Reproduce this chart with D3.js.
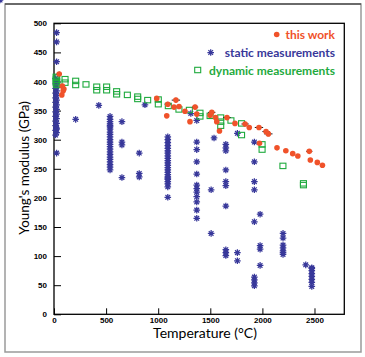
<!DOCTYPE html>
<html><head><meta charset="utf-8">
<script src="https://cdn.jsdelivr.net/npm/d3@7"></script>
<style>body{margin:0;background:#fff}svg{display:block}</style>
</head><body>
<script>
// ---- data ----
const thisWorkT   = [50,80,95,75,88,986,1082,1092,1152,1170,1200,1257,1305,1354,1370,1498,1514,1550,1562,1588,1660,1737,1834,1874,1967,1972,2035,2057,2140,2225,2291,2340,2450,2460,2527,2576];
const thisWorkE   = [413,392,387,377,384,371,341,361,356,368,357,349,331,356,344,342,347,338,331,315,338,328,327,321,321,294,314,310,286,281,276,272,280,265,261,256];
const thisWorkErr = [25,0,20,0,0,0,0,30,0,40,0,0,0,30,0,0,35,0,0,0,35,0,35,0,40,0,35,40,0,0,0,0,30,0,0,0];

const staticT = [
 25,25,25,
 15,25,15,25,15,25,15,25,15,25,15,25,15,25,15,25,15,25,15,25,15,25,15,25,15,25,
 25,208,430,
 538,538,538,538,538,538,538,538,538,538,538,538,538,538,538,538,538,538,538,538,538,538,538,
 652,652,652,652, 818,818,818, 873,
 1092,1092,1092,1092,1092,1092,1092,1092,1092,1092,1092,1092,1092,1092,1092,1092,1092,1092,1092,1092,1092,1092,1092,
 1313,
 1370,1370,1370,1370,1370,1370,1370,1370,1370,1370,1370,1370,
 1508,1508, 1536,
 1649,1649,1649,1649,1649,1649,1649,1649,1649,1649,
 1760,1760,1760,
 1923,1923,1923,1923,1923,1923,1923,1923,1923,
 1978,1978,1978,1978,
 2198,2198,2198,2198,2198,2198,2198,
 2416,
 2474,2474,2474,2474,2474,2474,2474,2474,
 2644];
const staticE = [
 484,468,434,
 405,400,396,392,388,384,380,376,372,368,364,360,356,352,348,344,340,336,332,328,324,320,316,312,308,
 277,318,335,
 359,340,335,331,327,322,318,313,309,305,300,296,292,288,284,279,275,270,266,262,257,253,248,
 324,296,291,235, 331,242,236, 277,
 360,305,300,295,290,285,281,277,272,268,264,260,256,252,248,244,240,236,232,228,224,219,201,
 234,
 345,333,296,283,262,241,222,216,210,202,193,179,
 165,139, 214,
 303,292,286,281,248,228,221,111,106,101,
 186,106,92,
 311,296,262,228,214,64,59,54,49,
 159,118,112,84,
 172,139,131,119,114,109,103,
 106,
 85,80,75,70,65,60,55,48,
 79];

const dynT = [20,20,20,26,26,26,106,106,208,208,307,410,410,505,505,601,601,704,803,803,899,1001,1001,1097,1199,1299,1401,1401,1498,1600,1600,1600,1698,1800,1800,1997,1997,2197,2394,2394];
const dynE = [408,403,397,407,400,394,404,398,401,394,395,391,385,391,385,383,378,377,374,370,368,369,361,358,352,351,346,340,341,338,331,324,333,328,308,292,283,255,225,222];

const xMajor = [0,500,1000,1500,2000,2500];
const yMajor = [0,50,100,150,200,250,300,350,400,450,500];
const legendLabels = ["this work","static measurements","dynamic measurements"];
const xTitle = "Temperature (°C)";
const yTitle = "Young's modulus (GPa)";

// ---- drawing ----
const W = 365, H = 357;
const RED = "#f0522a", BLUE = "#38389a", GREEN = "#1faa3e";
const svg = d3.select("body").append("svg").attr("width", W).attr("height", H);

// canvas frame
svg.append("rect").attr("x",5).attr("y",4).attr("width",356).attr("height",348)
  .attr("fill","none").attr("stroke","#9a9a9a").attr("stroke-width",1.5);
svg.append("line").attr("x1",5).attr("x2",361).attr("y1",4).attr("y2",4)
  .attr("stroke","#222").attr("stroke-width",1.2);

const x = d3.scaleLinear().domain([0,2786]).range([54,344.3]);
const y = d3.scaleLinear().domain([0,500]).range([314.3,23.3]);

const tickFont = "'Liberation Sans', Arial, sans-serif";
const titleFont = "Lato, 'Open Sans', sans-serif";

// x axis minor + major
const gx = svg.append("g").attr("transform",`translate(0,${y(0)})`);
gx.call(d3.axisBottom(x).tickValues(d3.range(0,2786,100)).tickSize(-3).tickFormat(""));
gx.call(d3.axisBottom(x).tickValues(xMajor).tickSize(-6).tickPadding(3).tickFormat(d3.format("d")));
gx.select(".domain").remove();
gx.selectAll("line").attr("stroke","#000").attr("stroke-width",1);
gx.selectAll("text").attr("font-family",tickFont).attr("font-weight","bold")
  .attr("font-size",8).attr("fill","#000");

const gy = svg.append("g").attr("transform",`translate(${x(0)},0)`);
gy.call(d3.axisLeft(y).tickValues(d3.range(0,501,10)).tickSize(-3.5).tickFormat(""));
gy.call(d3.axisLeft(y).tickValues(yMajor).tickSize(-7).tickPadding(7).tickFormat(d3.format("d")));
gy.select(".domain").remove();
gy.selectAll("line").attr("stroke","#000").attr("stroke-width",1);
gy.selectAll("text").attr("font-family",tickFont).attr("font-weight","bold")
  .attr("font-size",8).attr("fill","#000");

// plot frame
svg.append("rect").attr("x",x(0)).attr("y",y(500)).attr("width",x(2786)-x(0)).attr("height",y(0)-y(500))
  .attr("fill","none").attr("stroke","#000").attr("stroke-width",1.3);

// titles
svg.append("text").attr("x",205).attr("y",338).attr("text-anchor","middle")
  .attr("font-family",titleFont).attr("font-size",14).attr("fill","#000").text(xTitle);
svg.append("text").attr("transform","translate(29,168) rotate(-90)").attr("text-anchor","middle")
  .attr("font-family",titleFont).attr("font-size",13.5).attr("fill","#000").text(yTitle);

// asterisk path
function star(s){
  const d = s*0.7071;
  return `M${-s},0L${s},0M0,${-s}L0,${s}M${-d},${-d}L${d},${d}M${-d},${d}L${d},${-d}`;
}

// static
const staticData = staticT.map((t,i)=>({t, e: staticE[i]}));
svg.append("g").selectAll("path").data(staticData).join("path")
  .attr("transform",d=>`translate(${x(d.t)},${y(d.e)})`)
  .attr("d",star(3.3)).attr("stroke",BLUE).attr("stroke-width",1.25).attr("fill","none");

// dynamic
const dynData = dynT.map((t,i)=>({t, e: dynE[i]}));
svg.append("g").selectAll("rect").data(dynData).join("rect")
  .attr("x",d=>x(d.t)-3).attr("y",d=>y(d.e)-2.7).attr("width",6).attr("height",5.4)
  .attr("fill","none").attr("stroke",GREEN).attr("stroke-width",1.1);

// this work
const twData = thisWorkT.map((t,i)=>({t, e: thisWorkE[i], err: thisWorkErr[i]}));
const eg = svg.append("g");
eg.selectAll("line.h").data(twData.filter(d=>d.err>0)).join("line").attr("class","h")
  .attr("x1",d=>x(d.t-d.err)).attr("x2",d=>x(d.t+d.err)).attr("y1",d=>y(d.e)).attr("y2",d=>y(d.e))
  .attr("stroke","#000").attr("stroke-width",0.9);
eg.selectAll("line.v").data(twData.filter(d=>d.err>0)).join("line").attr("class","v")
  .attr("x1",d=>x(d.t)).attr("x2",d=>x(d.t)).attr("y1",d=>y(d.e+4)).attr("y2",d=>y(d.e-4))
  .attr("stroke","#000").attr("stroke-width",0.9);
svg.append("g").selectAll("circle").data(twData).join("circle")
  .attr("cx",d=>x(d.t)).attr("cy",d=>y(d.e)).attr("r",2.8).attr("fill",RED);

// legend
const lg = svg.append("g").attr("font-family",titleFont).attr("font-weight","bold").attr("font-size",12);
lg.append("circle").attr("cx",276.7).attr("cy",34.5).attr("r",2.8).attr("fill",RED);
lg.append("text").attr("x",335).attr("y",38.8).attr("text-anchor","end").attr("fill",RED).text(legendLabels[0]);
lg.append("path").attr("transform","translate(210.7,52.5)").attr("d",star(3.3))
  .attr("stroke",BLUE).attr("stroke-width",1.25).attr("fill","none");
lg.append("text").attr("x",335).attr("y",56.8).attr("text-anchor","end").attr("fill",BLUE).text(legendLabels[1]);
lg.append("rect").attr("x",194.7).attr("y",67.3).attr("width",6).attr("height",5.4)
  .attr("fill","none").attr("stroke",GREEN).attr("stroke-width",1.1);
lg.append("text").attr("x",335).attr("y",74.8).attr("text-anchor","end").attr("fill",GREEN).text(legendLabels[2]);
</script>
</body></html>
